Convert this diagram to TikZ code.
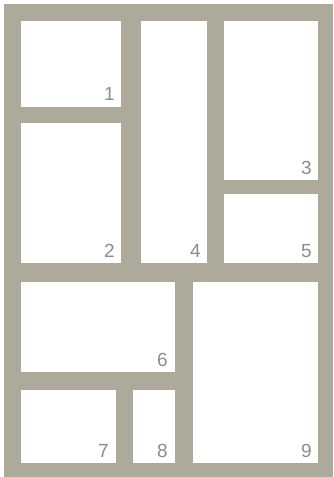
\documentclass[tikz,border=0pt]{standalone}
\usepackage{fontspec}
\setmainfont{Liberation Sans}
\definecolor{framegrey}{RGB}{173,170,156}
\definecolor{labelgrey}{RGB}{140,140,138}
\begin{document}
\begin{tikzpicture}[x=1pt,y=-1pt,
  panel/.style={fill=white,draw=none},
  num/.style={anchor=base east,text=labelgrey,font=\fontsize{19}{19}\selectfont,inner sep=0pt}]
\useasboundingbox (0,0) rectangle (333,477);
\fill[white] (0,0) rectangle (333,477);
\fill[framegrey] (4,4) rectangle (333,477);
% panels
\fill[panel] (21,21) rectangle (121,107);
\fill[panel] (21,123) rectangle (121,263);
\fill[panel] (141,21) rectangle (207,263);
\fill[panel] (224,21) rectangle (318,180);
\fill[panel] (224,194) rectangle (318,263);
\fill[panel] (21,282) rectangle (175,372);
\fill[panel] (21,390) rectangle (116,463);
\fill[panel] (133,390) rectangle (175,463);
\fill[panel] (193,282) rectangle (318,463);
% labels
\node[num] (n1) at (115,100) {1};
\node[num] (n2) at (115,257) {2};
\node[num] (n4) at (201,257) {4};
\node[num] (n3) at (312,174) {3};
\node[num] (n5) at (312,257) {5};
\node[num] (n6) at (168,366) {6};
\node[num] (n7) at (109,457) {7};
\node[num] (n8) at (168,457) {8};
\node[num] (n9) at (312,457) {9};
\end{tikzpicture}
\end{document}
